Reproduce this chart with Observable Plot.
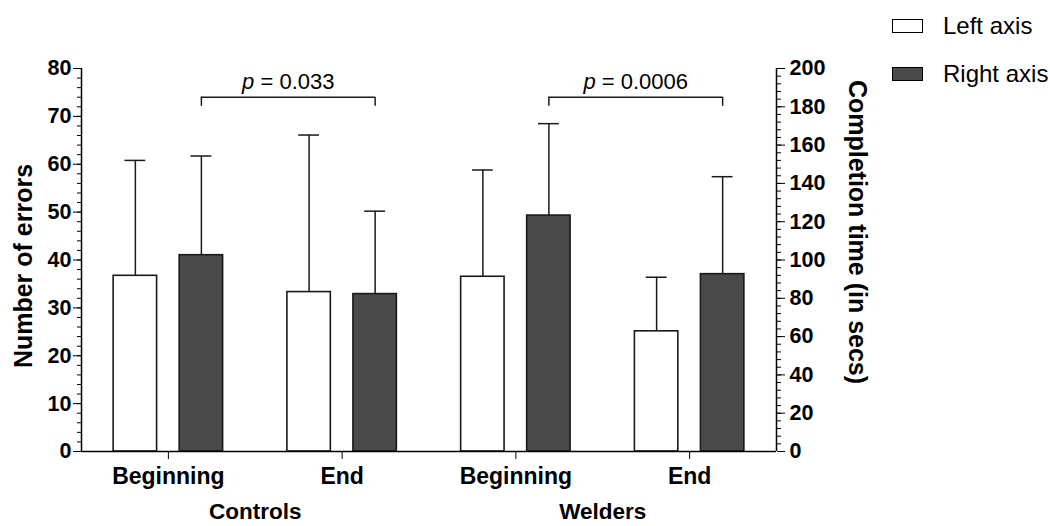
<!DOCTYPE html>
<html><head><meta charset="utf-8">
<script src="https://cdn.jsdelivr.net/npm/d3@7"></script>
<script src="https://cdn.jsdelivr.net/npm/@observablehq/plot@0.6"></script>
<style>
body{margin:0;background:#fff;font-family:"Liberation Sans",Arial,sans-serif;}
#wrap{position:relative;width:1050px;height:526px;}
.item{position:absolute;left:892px;display:flex;align-items:center;white-space:nowrap;font-size:24px;color:#000;line-height:1;}
.sw{width:29px;height:12px;border:1.5px solid #000;margin-right:20px;}
</style></head><body><div id="wrap"></div>
<script>
// ---- data ----
const groups = ["Controls", "Welders"];
const phases = ["Beginning", "End"];
const errorsMean = [36.7, 33.3, 36.5, 25.1];   // left axis: number of errors
const errorsSD   = [24.1, 32.8, 22.3, 11.3];
const timeMean   = [102.5, 82.2, 123.2, 92.6]; // right axis: completion time (s)
const timeSD     = [51.8, 43.3, 48.0, 50.9];
const pLabels    = ["0.033", "0.0006"];
const seriesNames = ["Left axis", "Right axis"];
const leftMax = 80, rightMax = 200;

// ---- build ----
const FONT = '"Liberation Sans", Arial, sans-serif';
const k = leftMax / rightMax;
const rows = [];
groups.forEach((g, gi) => phases.forEach((p, pi) => {
  const i = gi * 2 + pi;
  rows.push({i, series: "Left", mean: errorsMean[i], sd: errorsSD[i], s: 1});
  rows.push({i, series: "Right", mean: timeMean[i], sd: timeSD[i], s: k});
}));
const offset = 0.19, halfW = 0.125, capHalf = 0.06;
const cx = d => d.i + 0.5 + (d.series === "Left" ? -offset : offset);
const brackets = groups.map((g, gi) => ({x1: gi * 2 + 0.5 + offset, x2: gi * 2 + 1.5 + offset, label: "p = " + pLabels[gi]}));
const bracketTop = 74, bracketDrop = 1.9;
const ink = "#1a1a1a";

const plot = Plot.plot({
  width: 1050, height: 526,
  marginLeft: 81, marginRight: 274, marginTop: 68, marginBottom: 75,
  x: {domain: [0, 4]},
  y: {domain: [0, leftMax]},
  style: {fontFamily: FONT, color: "#000", background: "transparent", overflow: "visible"},
  marks: [
    Plot.ruleX(rows, {x: cx, y1: d => d.mean * d.s, y2: d => (d.mean + d.sd) * d.s, stroke: ink, strokeWidth: 1.5}),
    Plot.ruleY(rows, {y: d => (d.mean + d.sd) * d.s, x1: d => cx(d) - capHalf, x2: d => cx(d) + capHalf, stroke: ink, strokeWidth: 1.5}),
    Plot.rect(rows, {x1: d => cx(d) - halfW, x2: d => cx(d) + halfW, y1: 0, y2: d => d.mean * d.s,
      fill: d => d.series === "Left" ? "#ffffff" : "#4a4a4a", stroke: ink, strokeWidth: 1.6}),
    Plot.axisY({anchor: "left", ticks: d3.range(0, leftMax + 1, 10), tickSize: 8, tickPadding: 2, fontSize: 21.5, fontWeight: "bold", label: null}),
    Plot.axisY({anchor: "left", ticks: d3.range(0, leftMax + 1, 2), tickSize: 4, tickFormat: () => "", label: null}),
    Plot.axisY({anchor: "right", ticks: d3.range(0, rightMax + 1, 20).map(v => v * k), tickFormat: v => Math.round(v / k), tickSize: 8, tickPadding: 5, fontSize: 21.5, fontWeight: "bold", label: null}),
    Plot.axisY({anchor: "right", ticks: d3.range(0, rightMax + 1, 4).map(v => v * k), tickSize: 4, tickFormat: () => "", label: null}),
    Plot.axisX({ticks: d3.range(groups.length * phases.length).map(i => i + 0.5), tickFormat: v => phases[Math.floor(v) % phases.length], tickSize: 8, tickPadding: 8, fontSize: 23, fontWeight: "bold", label: null}),
    Plot.axisX({ticks: groups.map((g, gi) => gi * 2 + 1), tickFormat: v => groups[(v - 1) / 2], tickSize: 0, tickPadding: 52, fontSize: 22.5, fontWeight: "bold", label: null}),
    Plot.ruleY([0], {stroke: "#000", strokeWidth: 1.5}),
    Plot.ruleX([0, 4], {stroke: "#000", strokeWidth: 1.5}),
    Plot.ruleY(brackets, {y: bracketTop, x1: "x1", x2: "x2", stroke: ink, strokeWidth: 1.5}),
    Plot.ruleX(brackets.flatMap(b => [b.x1, b.x2]), {x: d => d, y1: bracketTop - bracketDrop, y2: bracketTop, stroke: ink, strokeWidth: 1.5}),
    Plot.text(brackets, {x: d => (d.x1 + d.x2) / 2, y: bracketTop, text: "label", dy: -8, lineAnchor: "bottom", fontSize: 22, fill: "#000"}),
    Plot.text(["Number of errors"], {text: d => d, frameAnchor: "left", textAnchor: "middle", rotate: -90, dx: -58, dy: 6, fontSize: 25, fontWeight: "bold", fill: "#000"}),
    Plot.text(["Completion time (in secs)"], {text: d => d, frameAnchor: "right", textAnchor: "middle", rotate: 90, dx: 80, dy: -28, fontSize: 25, fontWeight: "bold", fill: "#000"})
  ]
});

// italic "p"
d3.select(plot).selectAll("text").filter(function () { return /^p = /.test(this.textContent); }).each(function () {
  const rest = this.textContent.slice(1);
  this.textContent = "";
  d3.select(this).append("tspan").attr("font-style", "italic").text("p");
  d3.select(this).append("tspan").text(rest);
});

const wrap = document.getElementById("wrap");
wrap.appendChild(plot);

// legend
const fills = ["#ffffff", "#4a4a4a"];
const tops = [14, 62];
seriesNames.forEach((name, i) => {
  const it = document.createElement("div");
  it.className = "item";
  it.style.top = tops[i] + "px";
  const sw = document.createElement("span");
  sw.className = "sw";
  sw.style.background = fills[i];
  it.appendChild(sw);
  const t = document.createElement("span");
  t.textContent = name;
  it.appendChild(t);
  wrap.appendChild(it);
});
</script></body></html>
